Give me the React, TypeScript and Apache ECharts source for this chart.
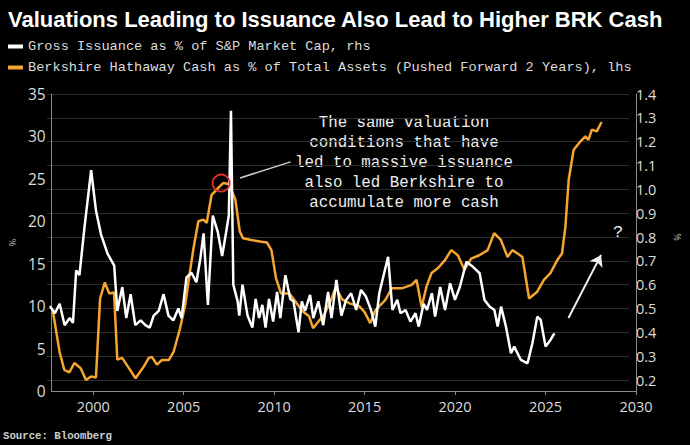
import React, { useEffect, useRef } from "react";
import * as echarts from "echarts";

const TITLE = "Valuations Leading to Issuance Also Lead to Higher BRK Cash";
const WHITE_NAME = "Gross Issuance as % of S&P Market Cap, rhs";
const ORANGE_NAME = "Berkshire Hathaway Cash as % of Total Assets (Pushed Forward 2 Years), lhs";

const xTickYears = [2000, 2005, 2010, 2015, 2020, 2025, 2030];
const leftTicks = [0, 5, 10, 15, 20, 25, 30, 35];

// Berkshire cash as % of total assets (pushed forward 2 years), left axis
const orangeYears = [
  1997.77, 1998.14, 1998.4, 1998.68, 1998.96, 1999.3, 1999.6, 1999.87, 2000.15, 2000.38,
  2000.64, 2000.88, 2001.15, 2001.33, 2001.6, 2001.97, 2002.34, 2002.8, 2003.07, 2003.25,
  2003.52, 2003.8, 2004.17, 2004.44, 2004.8, 2005.08, 2005.35, 2005.54, 2005.81, 2006.09,
  2006.27, 2006.54, 2006.72, 2006.9, 2007.18, 2007.46, 2007.68, 2007.86, 2008.1, 2008.28,
  2008.74, 2009.3, 2009.6, 2009.85, 2010.1, 2010.38, 2010.84, 2011.2, 2011.57, 2011.93,
  2012.15, 2012.45, 2012.75, 2013.1, 2013.4, 2013.76, 2014.2, 2014.7, 2015.0, 2015.31,
  2015.59, 2016.14, 2016.5, 2017.05, 2017.6, 2017.87, 2018.15, 2018.42, 2018.7, 2019.06,
  2019.43, 2019.79, 2020.15, 2020.52, 2020.89, 2021.34, 2021.8, 2022.16, 2022.53, 2022.9,
  2023.17, 2023.45, 2023.72, 2024.09, 2024.54, 2024.91, 2025.27, 2025.64, 2025.91, 2026.1,
  2026.28, 2026.55, 2026.92, 2027.2, 2027.37, 2027.56, 2027.83, 2028.1,
];
const orangeValues = [
  9.4, 4.6, 2.5, 2.2, 3.3, 2.7, 1.3, 1.7, 1.6, 10.9,
  12.8, 11.5, 11.6, 3.7, 3.9, 2.7, 1.5, 2.9, 3.9, 4.0,
  3.1, 3.65, 3.65, 4.6, 7.4, 10.1, 14.1, 16.8, 20.0, 20.2,
  19.8, 23.1, 23.5, 23.9, 24.5, 24.4, 23.5, 22.5, 18.8, 18.0,
  17.8, 17.6, 17.5, 16.6, 13.3, 11.5, 11.5, 10.5, 9.4, 8.8,
  7.4, 8.2, 8.95, 10.5, 12.2, 10.8, 10.3, 10.0, 9.3, 8.0,
  9.5, 10.7, 12.1, 12.1, 12.5, 13.1, 9.9, 12.3, 13.9, 14.5,
  15.4, 16.6, 16.0, 14.3, 15.6, 16.0, 16.6, 18.6, 17.8, 15.8,
  16.6, 16.2, 15.8, 10.9, 11.7, 13.1, 13.9, 15.4, 16.2, 19.4,
  24.9, 28.4, 29.4, 30.0, 29.6, 30.8, 30.6, 31.7,
];

// Gross issuance as % of S&P market cap, right axis
const whiteYears = [
  1997.86, 1998.14, 1998.4, 1998.68, 1998.96, 1999.14, 1999.32, 1999.5, 1999.78, 2000.15,
  2000.42, 2000.7, 2001.06, 2001.43, 2001.6, 2001.88, 2002.1, 2002.34, 2002.6, 2002.9,
  2003.16, 2003.4, 2003.62, 2003.9, 2004.17, 2004.44, 2004.71, 2004.99, 2005.17, 2005.44,
  2005.72, 2005.99, 2006.21, 2006.39, 2006.63, 2006.9, 2007.18, 2007.42, 2007.64, 2007.79,
  2007.91, 2008.04, 2008.28, 2008.37, 2008.55, 2008.83, 2009.1, 2009.28, 2009.47, 2009.65,
  2009.83, 2010.02, 2010.25, 2010.47, 2010.65, 2010.93, 2011.2, 2011.38, 2011.66, 2011.84,
  2012.02, 2012.3, 2012.48, 2012.76, 2013.03, 2013.3, 2013.49, 2013.76, 2014.04, 2014.3,
  2014.58, 2014.86, 2015.13, 2015.4, 2015.68, 2015.92, 2016.14, 2016.41, 2016.63, 2016.87,
  2017.14, 2017.32, 2017.6, 2017.87, 2018.15, 2018.33, 2018.6, 2018.79, 2019.06, 2019.24,
  2019.52, 2019.79, 2020.07, 2020.34, 2020.61, 2020.98, 2021.34, 2021.71, 2021.98, 2022.26,
  2022.53, 2022.71, 2022.9, 2023.17, 2023.45, 2023.63, 2024.0, 2024.37, 2024.64, 2024.91,
  2025.1, 2025.37, 2025.64, 2025.86,
];
const whiteValues = [
  0.51, 0.48, 0.52, 0.43, 0.46, 0.44, 0.66, 0.64, 0.84, 1.08,
  0.91, 0.81, 0.73, 0.68, 0.49, 0.59, 0.46, 0.56, 0.43, 0.45,
  0.43, 0.42, 0.47, 0.49, 0.56, 0.47, 0.45, 0.5, 0.46, 0.63,
  0.65, 0.61, 0.71, 0.815, 0.515, 0.89, 0.82, 0.72, 0.82, 0.89,
  1.33, 0.6, 0.53, 0.47, 0.6, 0.47, 0.42, 0.54, 0.46, 0.515,
  0.42, 0.54, 0.445, 0.57, 0.46, 0.64, 0.54, 0.53, 0.4, 0.53,
  0.49, 0.557, 0.46, 0.53, 0.43, 0.57, 0.46, 0.62, 0.47, 0.536,
  0.564, 0.494, 0.578, 0.55, 0.494, 0.424, 0.564, 0.648, 0.717, 0.494,
  0.536, 0.48, 0.494, 0.445, 0.48, 0.424, 0.52, 0.494, 0.564, 0.466,
  0.59, 0.494, 0.606, 0.536, 0.59, 0.696, 0.675, 0.648, 0.536, 0.508,
  0.494, 0.424, 0.508, 0.424, 0.312, 0.34, 0.284, 0.27, 0.354, 0.466,
  0.452, 0.34, 0.368, 0.396,
];

const annotationLines = [
  "The same valuation",
  "conditions that have",
  "led to massive issuance",
  "also led Berkshire to",
  "accumulate more cash",
];

const ORANGE = "#f5a530";
const WHITE = "#ffffff";
const MONO = "'Liberation Mono', 'DejaVu Sans Mono', monospace";
const SANS = "'Open Sans', 'Noto Sans', sans-serif";

export default function App() {
  const ref = useRef<HTMLDivElement>(null);

  useEffect(() => {
    document.body.style.margin = "0";
    document.body.style.background = "#000";
    if (!ref.current) return;
    const chart = echarts.init(ref.current, null, { renderer: "svg" });

    const orangeData = orangeYears.map((y, i) => [y, orangeValues[i]]);
    const whiteData = whiteYears.map((y, i) => [y, whiteValues[i]]);

    const xCommon = {
      type: "value" as const,
      min: 1997.7,
      max: 2030,
      splitLine: { show: false },
    };

    chart.setOption({
      animation: false,
      backgroundColor: "#000",
      title: {
        text: TITLE,
        left: 3,
        top: 3,
        textStyle: {
          color: "#fff",
          fontSize: 22,
          fontWeight: "bold",
          fontFamily: "'Liberation Sans', Arial, sans-serif",
        },
      },
      legend: {
        orient: "vertical",
        left: 3,
        top: 33,
        itemWidth: 15,
        itemHeight: 4,
        itemGap: 4,
        icon: "rect",
        selectedMode: false,
        data: [
          { name: WHITE_NAME, itemStyle: { color: WHITE } },
          { name: ORANGE_NAME, itemStyle: { color: ORANGE } },
        ],
        textStyle: {
          color: "#dcdcdc",
          fontSize: 13.6,
          lineHeight: 17,
          fontFamily: MONO,
          padding: [0, 0, 0, 0],
        },
      },
      grid: [
        { left: 47, right: 54, top: 94, height: 297 },
        { left: 47, right: 54, top: 94, height: 286 },
      ],
      xAxis: [
        {
          ...xCommon,
          gridIndex: 0,
          axisLine: { show: true, lineStyle: { color: "#8a8a8a", width: 1 } },
          axisTick: {
            show: true,
            length: 4,
            customValues: xTickYears,
            lineStyle: { color: "#8a8a8a" },
          },
          axisLabel: {
            customValues: xTickYears,
            color: "#dcdcdc",
            fontSize: 14.5,
            margin: 8,
            fontFamily: SANS,
            formatter: (v: number) => String(Math.round(v)),
          },
        },
        { ...xCommon, gridIndex: 1, show: false },
      ],
      yAxis: [
        {
          type: "value",
          gridIndex: 0,
          position: "left",
          min: 0,
          max: 35,
          interval: 5,
          axisLine: { show: true, lineStyle: { color: "#8a8a8a" } },
          axisTick: { show: false },
          splitLine: { show: false },
          axisLabel: {
            color: "#dcdcdc",
            fontSize: 15.5,
            margin: 6,
            fontFamily: SANS,
            customValues: leftTicks,
          },
          name: "%",
          nameLocation: "middle",
          nameGap: 34,
          nameRotate: 90,
          nameTextStyle: { color: "#bbb", fontSize: 9, fontFamily: SANS },
        },
        {
          type: "value",
          gridIndex: 0,
          position: "right",
          min: 0,
          max: 35,
          axisLine: { show: true, lineStyle: { color: "#8a8a8a" } },
          axisTick: { show: false },
          axisLabel: { show: false },
          splitLine: { show: false },
        },
        {
          type: "value",
          gridIndex: 1,
          position: "right",
          min: 0.2,
          max: 1.4,
          interval: 0.1,
          axisLine: { show: false },
          axisTick: { show: false },
          splitLine: { show: true, lineStyle: { color: "#2e2e2e", width: 1 } },
          axisLabel: {
            color: "#dcdcdc",
            fontSize: 14.5,
            margin: 7,
            fontFamily: SANS,
            formatter: (v: number) => v.toFixed(1),
          },
          name: "%",
          nameLocation: "middle",
          nameGap: 44,
          nameRotate: 90,
          nameTextStyle: { color: "#bbb", fontSize: 9, fontFamily: SANS },
        },
      ],
      series: [
        {
          name: ORANGE_NAME,
          type: "line",
          xAxisIndex: 0,
          yAxisIndex: 0,
          data: orangeData,
          symbol: "none",
          lineStyle: { color: ORANGE, width: 2.5 },
          itemStyle: { color: ORANGE },
          z: 2,
          markPoint: {
            silent: true,
            symbol: "circle",
            symbolSize: 17,
            label: { show: false },
            itemStyle: { color: "transparent", borderColor: "#e5302a", borderWidth: 1.8 },
            data: [{ coord: [2007.07, 24.5] }],
          },
          markLine: {
            silent: true,
            symbol: ["none", "none"],
            label: { show: false },
            lineStyle: { color: "#cfcfcf", width: 1.5, type: "solid" },
            data: [[{ coord: [2008.11, 25.1] }, { coord: [2010.91, 27.0] }]],
          },
        },
        {
          name: WHITE_NAME,
          type: "line",
          xAxisIndex: 1,
          yAxisIndex: 2,
          data: whiteData,
          symbol: "none",
          lineStyle: { color: WHITE, width: 2.5 },
          itemStyle: { color: WHITE },
          z: 3,
          markLine: {
            silent: true,
            symbol: ["none", "arrow"],
            symbolSize: 11,
            label: { show: false },
            lineStyle: { color: "#f0f0f0", width: 2, type: "solid" },
            data: [[{ coord: [2026.64, 0.46] }, { coord: [2028.45, 0.725] }]],
          },
        },
      ],
      graphic: [
        {
          type: "text",
          x: 404,
          y: 113,
          style: {
            text: annotationLines.join("\n"),
            fill: "#eeeeee",
            fontSize: 15.8,
            lineHeight: 20,
            fontFamily: MONO,
            align: "center",
            verticalAlign: "top",
          },
        },
        {
          type: "text",
          x: 618,
          y: 232,
          style: {
            text: "?",
            fill: "#f0f0f0",
            fontSize: 17,
            fontFamily: MONO,
            align: "center",
            verticalAlign: "middle",
          },
        },
        {
          type: "text",
          x: 3,
          y: 436,
          style: {
            text: "Source: Bloomberg",
            fill: "#cfcfcf",
            fontSize: 10.7,
            fontWeight: "bold",
            fontFamily: MONO,
            verticalAlign: "middle",
          },
        },
      ],
    });

    return () => chart.dispose();
  }, []);

  return (
    <div
      ref={ref}
      style={{ position: "absolute", left: 0, top: 0, width: 690, height: 445, background: "#000" }}
    />
  );
}
